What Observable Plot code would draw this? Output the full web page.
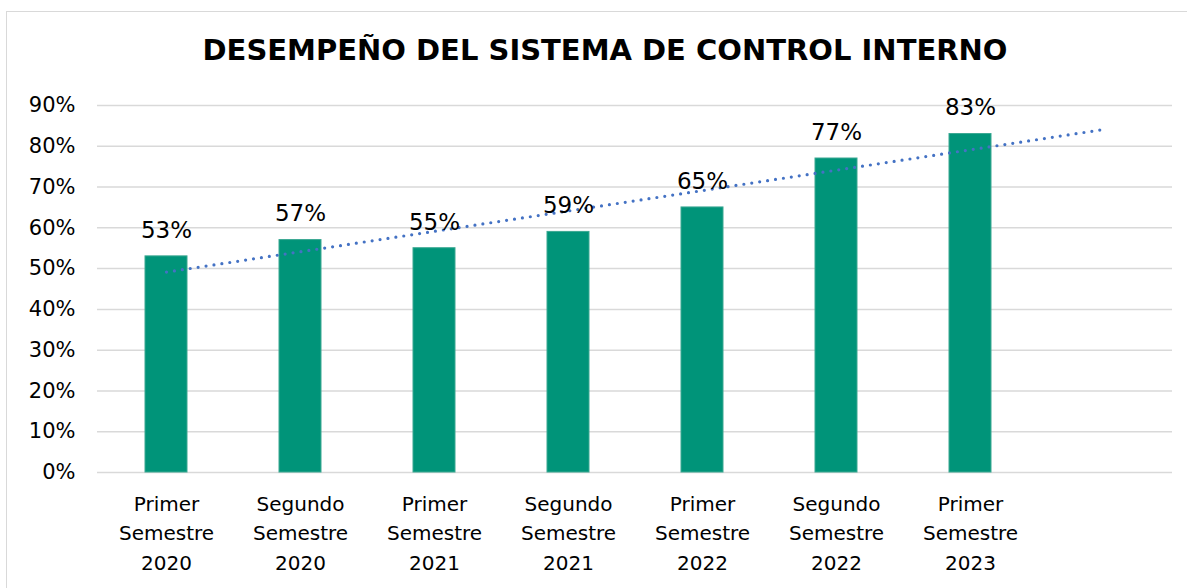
<!DOCTYPE html>
<html>
<head>
<meta charset="utf-8">
<script src="https://cdn.jsdelivr.net/npm/d3@7"></script>
<script src="https://cdn.jsdelivr.net/npm/@observablehq/plot@0.6"></script>
<style>
  body { margin: 0; background: #fff; font-family: "DejaVu Sans", sans-serif; }
  #wrap { position: relative; width: 1187px; height: 588px; overflow: hidden; }
  #border { position: absolute; left: 6px; top: 11px; width: 1200px; height: 600px; border: 1.5px solid #d9d9d9; box-sizing: border-box; }
  #title { position: absolute; left: 0; top: 33px; width: 1210px; text-align: center; font-size: 29px; font-weight: bold; color: #000; letter-spacing: 0px; }
  #chart { position: absolute; left: 0; top: 90px; }
</style>
</head>
<body>
<div id="wrap">
  <div id="border"></div>
  <div id="title">DESEMPEÑO DEL SISTEMA DE CONTROL INTERNO</div>
  <div id="chart"></div>
</div>
<script>
const categories = [
  "Primer\nSemestre\n2020",
  "Segundo\nSemestre\n2020",
  "Primer\nSemestre\n2021",
  "Segundo\nSemestre\n2021",
  "Primer\nSemestre\n2022",
  "Segundo\nSemestre\n2022",
  "Primer\nSemestre\n2023"
];
const values = [0.53, 0.57, 0.55, 0.59, 0.65, 0.77, 0.83];
const yTicks = [0, 0.1, 0.2, 0.3, 0.4, 0.5, 0.6, 0.7, 0.8, 0.9];
const forecastSlot = " "; // empty forecast period for the trendline

const data = categories.map((c, i) => ({cat: c, value: values[i]}));

// Linear trendline (least squares), forecast forward one period
const xs = values.map((_, i) => i + 1);
const mx = d3.mean(xs), my = d3.mean(values);
const slope = d3.sum(xs.map((x, i) => (x - mx) * (values[i] - my))) / d3.sum(xs.map(x => (x - mx) ** 2));
const intercept = my - slope * mx;
const domain = [...categories, forecastSlot];
const trend = domain.map((c, i) => ({cat: c, value: intercept + slope * (i + 1)}));

const chart = Plot.plot({
  width: 1187,
  height: 498,
  marginLeft: 97,
  marginRight: 15,
  marginTop: 15,
  marginBottom: 116,
  style: {fontFamily: "DejaVu Sans, sans-serif", fontSize: "20px", color: "#000", background: "transparent"},
  x: {domain, paddingInner: 0.69, paddingOuter: 0.345, label: null},
  y: {domain: [0, 0.9], label: null},
  marks: [
    Plot.gridY(yTicks, {stroke: "#d9d9d9", strokeOpacity: 1, strokeWidth: 1.5}),
    Plot.axisY(yTicks, {tickFormat: d3.format(".0%"), tickSize: 0, tickPadding: 22, fontSize: 21, label: null}),
    Plot.axisX({tickSize: 0, tickPadding: 17, fontSize: 20, lineHeight: 1.48, label: null,
      tickFormat: d => d}),
    Plot.barY(data, {x: "cat", y: "value", fill: "#009479", stroke: "#3aa892", strokeWidth: 1}),
    Plot.line(trend, {x: "cat", y: "value", stroke: "#4472C4", strokeWidth: 3.2, strokeDasharray: "0 8", strokeLinecap: "round"}),
    Plot.text(data, {x: "cat", y: "value", text: d => d3.format(".0%")(d.value), dy: -26, fontSize: 23, fill: "#000"})
  ]
});
document.getElementById("chart").appendChild(chart);
</script>
</body>
</html>
